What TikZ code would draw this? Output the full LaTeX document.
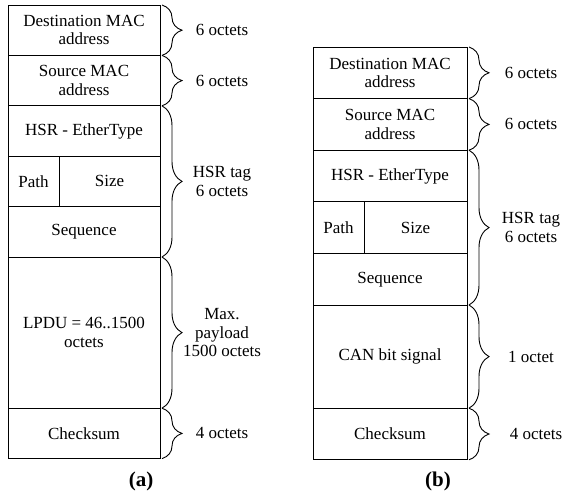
\documentclass[tikz,border=0pt]{standalone}
\usepackage{fontspec}
\setmainfont{Liberation Serif}
\usetikzlibrary{positioning,decorations.pathreplacing}
\tikzset{
    field/.style={
        rectangle,
        draw=black,
        line width=0.9pt,
        outer sep=0pt,
        inner sep=0pt,
        align=center,
        font=\fontsize{17}{18.5}\selectfont,
    },
    brace/.style={
        decorate,
        decoration={brace, amplitude=20pt, raise=2pt},
        line width=0.9pt,
    },
    octets/.style={
        midway,
        align=center,
        font=\fontsize{17}{18.5}\selectfont,
    },
    caption/.style={
        font=\fontsize{21}{24}\selectfont\bfseries,
    },
}
\begin{document}
\begin{tikzpicture}[x=1pt, y=-1pt, node distance=0pt]
    \useasboundingbox (0,0) rectangle (567,496);
    % (a) HSR frame
    \begin{scope}[field/.append style={minimum width=152pt, minimum height=50.4pt},
                  octets/.append style={xshift=62pt}]
    \node [field, anchor=north west] (dsta) at (8,5) {Destination MAC\\address};
    \node [field, below=of dsta] (srca) {Source MAC\\address};
    \node [field, below=of srca] (etha) {HSR - EtherType};
    \node [field, minimum width=51pt, below=of etha.south west, anchor=north west] (patha) {Path};
    \node [field, minimum width=101pt, right=of patha] (sizea) {Size};
    \node [field, below=of patha.south west, anchor=north west] (seqa) {Sequence};
    \node [field, minimum height=151.2pt, below=of seqa] (lpdua) {LPDU = 46..1500\\octets};
    \node [field, below=of lpdua] (cksa) {Checksum};
    \draw [brace] (dsta.north east) -- node [octets] {6 octets} (dsta.south east);
    \draw [brace] (srca.north east) -- node [octets] {6 octets} (srca.south east);
    \draw [brace] (etha.north east) -- node [octets] {HSR tag\\6 octets} (seqa.south east);
    \draw [brace] (lpdua.north east) -- node [octets] {Max.\\payload\\1500 octets} (lpdua.south east);
    \draw [brace] (cksa.north east) -- node [octets] {4 octets} (cksa.south east);
    \end{scope}
    \node [caption] (capa) at (141,481) {(a)};
    % (b) HSR frame with CAN signal
    \begin{scope}[field/.append style={minimum width=154pt, minimum height=51.6pt},
                  octets/.append style={xshift=64pt}]
    \node [field, anchor=north west] (dstb) at (313,47) {Destination MAC\\address};
    \node [field, below=of dstb] (srcb) {Source MAC\\address};
    \node [field, below=of srcb] (ethb) {HSR - EtherType};
    \node [field, minimum width=51pt, below=of ethb.south west, anchor=north west] (pathb) {Path};
    \node [field, minimum width=103pt, right=of pathb] (sizeb) {Size};
    \node [field, below=of pathb.south west, anchor=north west] (seqb) {Sequence};
    \node [field, minimum height=103.2pt, below=of seqb] (canb) {CAN bit signal};
    \node [field, below=of canb] (cksb) {Checksum};
    \draw [brace] (dstb.north east) -- node [octets] {6 octets} (dstb.south east);
    \draw [brace] (srcb.north east) -- node [octets] {6 octets} (srcb.south east);
    \draw [brace] (ethb.north east) -- node [octets] {HSR tag\\6 octets} (seqb.south east);
    \draw [brace] (canb.north east) -- node [octets] {1 octet} (canb.south east);
    \draw [brace] (cksb.north east) -- node [octets, xshift=5pt] {4 octets} (cksb.south east);
    \end{scope}
    \node [caption] (capb) at (438,481) {(b)};
\end{tikzpicture}
\end{document}
